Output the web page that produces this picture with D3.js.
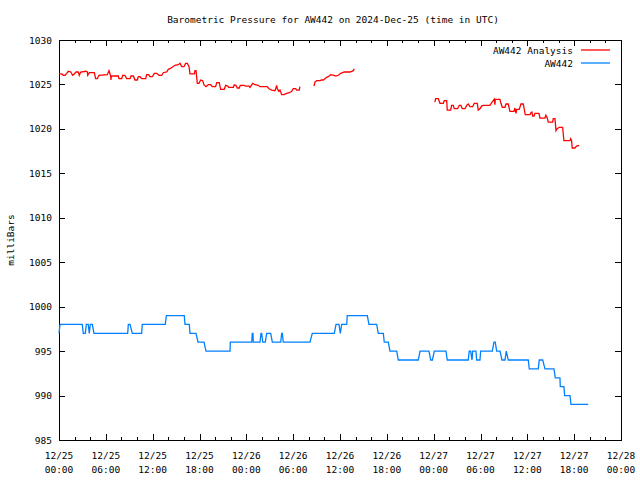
<!DOCTYPE html>
<html><head><meta charset="utf-8">
<script src="https://cdn.jsdelivr.net/npm/d3@7"></script>
<style>body{margin:0;background:#fff}svg{display:block}</style>
</head><body>
<svg id="chart" width="640" height="480"></svg>
<script>
const title = "Barometric Pressure for AW442 on 2024-Dec-25 (time in UTC)";
const yLabel = "milliBars";
const seriesNames = ["AW442 Analysis", "AW442"];
const seriesColors = ["#ff0000", "#0080ff"];
const yTicks = [985, 990, 995, 1000, 1005, 1010, 1015, 1020, 1025, 1030];
const xMajorHours = [0, 6, 12, 18, 24, 30, 36, 42, 48, 54, 60, 66, 72];
const xTickDates = ["12/25","12/25","12/25","12/25","12/26","12/26","12/26","12/26","12/27","12/27","12/27","12/27","12/28"];
const xTickTimes = ["00:00","06:00","12:00","18:00","00:00","06:00","12:00","18:00","00:00","06:00","12:00","18:00","00:00"];
const xMinorStep = 2;

// hours since 2024-12-25 00:00 UTC; null = gap in data
const analysisHours = [
 0.00,0.35,0.55,0.77,0.99,1.19,1.50,1.75,1.96,2.18,2.47,2.60,2.78,3.46,3.63,3.68,3.88,4.52,4.70,4.91,
 5.12,6.19,6.41,6.62,6.66,6.70,7.60,7.69,8.03,8.16,8.45,8.67,9.10,9.22,9.52,9.74,10.03,10.16,10.38,10.59,
 11.11,11.23,11.49,11.66,11.95,12.21,12.52,12.81,13.16,13.36,13.80,14.00,14.22,14.86,15.28,15.50,15.72,16.01,16.23,16.44,
 16.66,16.78,17.33,17.42,17.55,17.72,17.93,18.15,18.41,18.58,18.83,19.13,19.43,19.64,20.07,20.20,20.53,20.71,21.17,21.35,
 21.61,21.74,22.33,22.46,22.67,22.84,23.10,23.22,23.74,23.92,24.34,24.47,24.81,25.11,25.53,25.75,26.68,26.90,27.25,27.67,
 27.89,27.96,28.18,28.31,28.53,28.82,29.17,29.50,29.81,30.01,30.32,30.45,30.78,30.87,
 null,
 32.67,32.79,33.01,33.43,33.65,33.86,34.29,34.50,34.81,35.23,35.48,35.78,36.09,36.34,36.51,37.28,37.70,37.83,
 null,
 48.16,48.25,48.59,48.81,49.23,49.36,49.67,49.74,50.18,50.30,50.51,50.64,51.07,51.28,51.50,51.66,52.01,52.23,52.43,52.65,
 53.00,53.20,53.59,53.71,53.93,54.15,54.35,55.21,55.43,55.63,55.76,55.85,55.89,56.49,56.62,56.79,57.13,57.26,57.56,57.77,
 58.29,58.41,58.54,58.63,58.96,59.18,59.48,59.73,60.34,60.46,60.59,60.68,60.85,60.98,61.49,61.62,62.26,62.38,62.55,62.68,
 63.24,63.32,63.54,63.67,63.83,64.09,64.52,64.69,65.46,65.55,65.67,65.75,66.10,66.31,66.65
];
const analysisValues = [
 1026.18,1026.18,1026.03,1026.03,1026.25,1026.48,1026.40,1026.03,1026.18,1026.40,1026.40,1026.03,1026.40,1026.48,1026.40,1026.03,1026.32,1026.32,1025.65,1025.65,
 1026.03,1026.10,1026.55,1025.95,1025.50,1025.95,1025.95,1025.65,1025.65,1026.03,1026.03,1025.65,1025.65,1025.95,1025.95,1025.50,1025.50,1025.87,1025.87,1025.65,
 1025.65,1026.10,1026.10,1025.87,1025.87,1026.25,1026.25,1026.03,1026.03,1026.32,1026.40,1026.70,1026.77,1027.15,1027.22,1027.38,1027.00,1027.00,1027.38,1027.38,
 1027.00,1026.18,1026.18,1026.55,1026.55,1025.13,1025.13,1025.50,1025.42,1024.94,1024.75,1024.97,1024.97,1024.75,1024.75,1025.20,1025.20,1024.45,1024.45,1024.90,
 1024.82,1024.68,1024.68,1024.97,1024.90,1024.60,1024.60,1024.90,1024.90,1024.82,1024.82,1024.68,1025.13,1024.97,1024.90,1024.75,1024.75,1024.52,1024.37,1024.30,
 1024.90,1024.52,1024.23,1024.37,1023.85,1023.85,1024.00,1024.07,1024.23,1024.52,1024.52,1024.37,1024.37,1024.75,
 null,
 1024.82,1025.27,1025.42,1025.42,1025.50,1025.50,1025.80,1025.87,1026.10,1026.03,1025.95,1026.03,1026.25,1026.32,1026.40,1026.40,1026.55,1026.77,
 null,
 1023.02,1023.40,1023.40,1022.88,1022.88,1023.17,1023.17,1022.12,1022.12,1022.65,1022.65,1022.27,1022.27,1022.65,1022.65,1022.27,1022.27,1022.65,1022.80,1022.50,
 1022.50,1022.88,1022.88,1022.12,1022.27,1022.57,1022.65,1022.65,1022.95,1023.17,1023.33,1022.72,1023.33,1023.33,1022.88,1022.43,1022.43,1022.80,1022.80,1021.98,
 1021.98,1022.35,1021.75,1022.20,1022.20,1022.80,1022.80,1021.60,1021.60,1021.82,1021.90,1021.45,1021.45,1021.75,1021.75,1021.22,1021.22,1021.53,1021.22,1020.77,
 1020.77,1021.15,1021.15,1019.80,1020.02,1020.18,1020.18,1018.67,1018.67,1018.90,1018.67,1017.85,1017.85,1018.07,1018.15
];

const obsHours = [
 0.00,0.13,2.98,3.11,3.37,3.50,3.75,3.88,4.01,4.27,4.48,8.80,8.88,9.10,9.39,10.59,10.67,13.62,13.75,16.05,
 16.14,16.69,16.78,17.55,17.81,18.58,18.83,21.91,21.95,24.69,24.76,24.85,24.89,25.75,25.88,25.97,26.10,26.43,26.61,27.12,
 27.33,28.40,28.53,28.61,28.73,32.15,32.45,35.27,35.49,35.87,36.04,36.22,36.86,36.93,39.50,39.71,40.70,40.90,41.55,41.67,
 42.19,42.40,43.26,43.47,46.03,46.25,47.40,47.62,47.84,48.08,49.58,49.74,52.43,52.56,52.74,52.91,53.00,53.42,53.51,53.93,
 54.02,55.51,55.73,55.89,56.07,56.50,56.75,57.14,57.30,57.56,60.12,60.25,61.40,61.53,61.97,62.26,63.41,63.58,64.18,64.22,
 64.69,64.78,65.46,65.59,67.81
];
const obsValues = [
 997,998,998,997,997,998,998,997,998,998,997,997,998,998,997,997,998,998,999,999,
 998,998,997,997,996,996,995,995,996,996,997,997,996,996,997,997,996,996,997,997,
 996,996,997,997,996,996,997,997,998,998,997,998,998,999,999,998,998,997,997,996,
 996,995,995,994,994,995,995,994,994,995,995,994,994,995,995,994,995,995,994,994,
 995,995,996,996,995,995,994,994,995,994,994,993,993,994,994,993,993,992,992,991,
 991,990,990,989,989
];

const font = "'DejaVu Sans Mono', 'Liberation Mono', monospace";
const svg = d3.select("#chart").style("font-family", font);
const L = 59, R = 621, T = 40, B = 440;
const x = d3.scaleLinear().domain([0, 72]).range([L, R]);
const y = d3.scaleLinear().domain([985, 1030]).range([B, T]);
const minorHours = d3.range(0, 72 + 0.001, xMinorStep).filter(h => h % 6 !== 0);

// Title
svg.append("text").attr("x", 333).attr("y", 23).attr("text-anchor", "middle")
  .attr("font-size", "9.5px").attr("fill", "#000").text(title);

// y label
svg.append("text").attr("transform", "translate(14,240) rotate(-90)")
  .attr("text-anchor", "middle").attr("font-size", "9.5px").text(yLabel);

// axes
function styleAxis(g) {
  g.select(".domain").remove();
  g.selectAll("line").attr("stroke", "#000").attr("shape-rendering", "crispEdges");
  g.selectAll("text").attr("font-size", "9.5px").attr("font-family", font).attr("fill", "#000");
}
svg.append("g").attr("transform", `translate(0,${B})`)
  .call(d3.axisBottom(x).tickValues(xMajorHours).tickSize(-6).tickFormat("")).call(styleAxis);
svg.append("g").attr("transform", `translate(0,${B})`)
  .call(d3.axisBottom(x).tickValues(minorHours).tickSize(-3).tickFormat("")).call(styleAxis);
svg.append("g").attr("transform", `translate(0,${T})`)
  .call(d3.axisTop(x).tickValues(xMajorHours).tickSize(-6).tickFormat("")).call(styleAxis);
svg.append("g").attr("transform", `translate(0,${T})`)
  .call(d3.axisTop(x).tickValues(minorHours).tickSize(-3).tickFormat("")).call(styleAxis);
svg.append("g").attr("transform", `translate(${L},0)`)
  .call(d3.axisLeft(y).tickValues(yTicks).tickSize(-6).tickPadding(7).tickFormat(d3.format("d"))).call(styleAxis);
svg.append("g").attr("transform", `translate(${R},0)`)
  .call(d3.axisRight(y).tickValues(yTicks).tickSize(-6).tickFormat("")).call(styleAxis);

// x tick labels (two lines)
const xl = svg.append("g").attr("font-size", "9.5px").attr("text-anchor", "middle");
xMajorHours.forEach((h, i) => {
  const t = xl.append("text").attr("x", x(h)).attr("y", 459);
  t.append("tspan").attr("x", x(h)).text(xTickDates[i]);
  t.append("tspan").attr("x", x(h)).attr("dy", 14).text(xTickTimes[i]);
});

// frame
svg.append("rect").attr("x", L + 0.5).attr("y", T + 0.5).attr("width", R - L - 1 + 1).attr("height", B - T)
  .attr("fill", "none").attr("stroke", "#000").attr("stroke-width", 1).attr("shape-rendering", "crispEdges");

// lines
const analysis = analysisHours.map((h, i) => ({h, v: analysisValues[i]}));
const obs = obsHours.map((h, i) => ({h, v: obsValues[i]}));
const line = d3.line().defined(d => d.h !== null && d.v !== null).x(d => x(d.h)).y(d => y(d.v));
svg.append("path").datum(analysis).attr("d", line).attr("fill", "none")
  .attr("stroke", seriesColors[0]).attr("stroke-width", 1.3).attr("stroke-linejoin", "miter");
svg.append("path").datum(obs).attr("d", line).attr("fill", "none")
  .attr("stroke", seriesColors[1]).attr("stroke-width", 1.3).attr("stroke-linejoin", "miter");

// legend
const lg = svg.append("g").attr("font-size", "9.5px");
seriesNames.forEach((n, i) => {
  const yy = 50 + i * 13;
  lg.append("text").attr("x", 573).attr("y", yy + 3.5).attr("text-anchor", "end").text(n);
  lg.append("line").attr("x1", 581).attr("x2", 610).attr("y1", yy).attr("y2", yy)
    .attr("stroke", seriesColors[i]).attr("stroke-width", 1.3);
});
</script>
</body></html>
